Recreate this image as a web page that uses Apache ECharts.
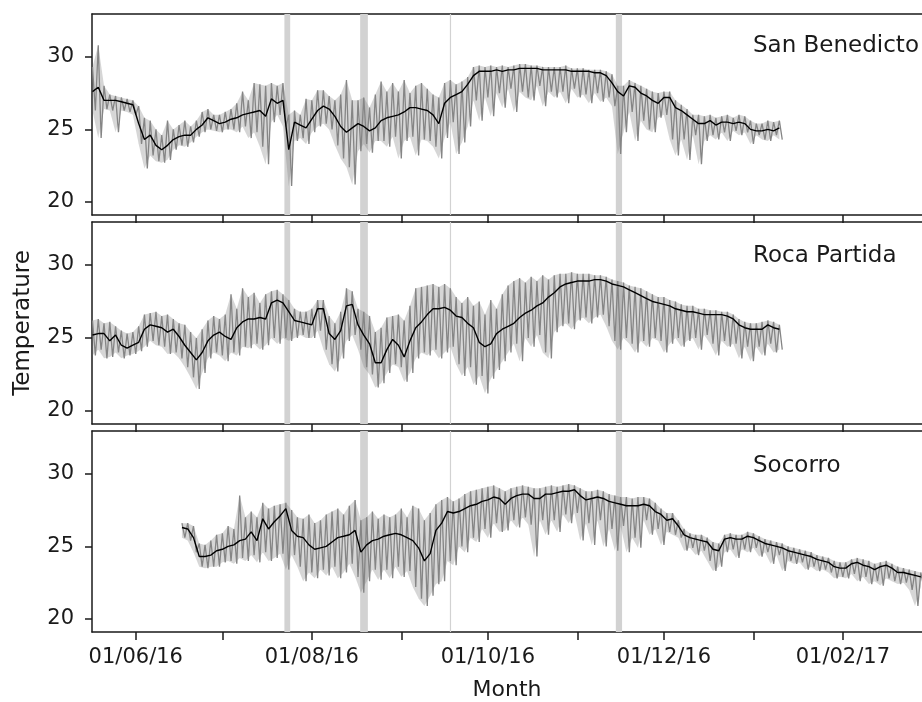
<!DOCTYPE html>
<html><head><meta charset="utf-8">
<script src="https://cdn.jsdelivr.net/npm/echarts@6/dist/echarts.min.js"></script>
<style>html,body{margin:0;padding:0;background:#fff}#c{width:922px;height:702px}</style>
</head><body><div id="c"></div>
<script>
// ---- data ----
const sites = ['San Benedicto', 'Roca Partida', 'Socorro'];
const seriesStart = ['2016-05-17', '2016-05-17', '2016-06-17'];
const stepDays = 2;

const sbMean = [27.6,27.9,27.0,27.0,27.0,26.9,26.8,26.7,
25.4,24.3,24.6,23.9,23.6,23.9,24.3,24.5,24.6,24.6,
25.0,25.3,25.8,25.6,25.4,25.5,25.7,25.8,26.0,26.1,
26.2,26.3,25.9,27.1,26.8,27.0,23.6,25.5,25.3,25.1,
25.7,26.3,26.6,26.4,25.9,25.2,24.8,25.1,25.4,25.2,
24.9,25.1,25.6,25.8,25.9,26.0,26.2,26.5,26.5,26.4,
26.3,26.0,25.4,26.8,27.2,27.4,27.6,28.1,28.7,29.0,
29.0,29.0,29.1,29.0,29.1,29.1,29.2,29.2,29.2,29.2,
29.1,29.1,29.1,29.1,29.1,29.0,29.0,29.0,29.0,28.9,
28.9,28.7,28.2,27.6,27.3,28.0,27.9,27.5,27.3,27.0,
26.8,27.2,27.2,26.5,26.3,26.0,25.7,25.4,25.4,25.6,
25.3,25.5,25.5,25.4,25.5,25.4,25.0,24.9,24.9,25.0,
24.9,25.1];
const sbHi = [29.3,30.8,28.0,27.4,27.3,27.2,27.1,27.0,
26.6,25.8,25.6,25.0,24.6,25.6,25.0,25.3,25.6,25.2,
25.6,26.2,26.4,26.0,26.0,26.2,26.4,26.8,27.6,27.0,
28.2,28.1,28.0,28.2,28.0,28.2,26.0,26.3,26.0,27.1,
27.0,27.7,27.7,27.3,27.0,27.4,28.4,27.0,27.0,27.2,
26.5,27.4,28.3,27.6,28.2,27.6,28.4,27.5,28.0,28.2,
27.8,27.4,27.2,28.2,28.4,28.1,28.3,28.6,29.3,29.4,
29.3,29.4,29.3,29.4,29.3,29.4,29.5,29.5,29.4,29.4,
29.3,29.3,29.3,29.3,29.4,29.2,29.2,29.2,29.1,29.1,
29.1,29.0,28.8,28.0,28.0,28.4,28.2,28.0,27.8,27.6,
27.5,27.6,27.6,27.0,26.7,26.4,26.0,26.0,25.9,26.0,
25.8,25.9,26.0,25.8,26.0,25.9,25.6,25.4,25.4,25.6,
25.5,25.6];
const sbLo = [26.3,24.4,26.4,26.3,24.8,26.3,26.2,26.0,
24.0,22.3,23.2,22.8,22.7,22.9,23.6,23.9,23.8,24.1,
24.5,24.8,25.0,24.9,24.8,25.0,25.0,24.8,25.2,24.4,
24.8,23.8,22.6,25.5,26.0,25.2,21.1,24.2,24.4,24.0,
24.8,25.2,25.4,25.0,23.9,23.0,22.4,21.2,23.5,24.0,
23.4,24.2,24.2,23.8,24.5,23.0,24.2,24.5,23.2,24.3,
24.2,23.8,23.0,24.4,25.5,23.3,24.1,25.2,27.0,25.6,
27.2,25.9,27.5,26.5,27.8,26.2,27.6,27.2,27.0,28.0,
26.6,27.6,27.2,27.6,26.8,27.8,27.2,27.4,26.8,27.5,
26.9,27.2,26.6,23.3,24.8,26.2,24.2,25.6,25.0,24.8,
25.8,26.0,24.3,23.2,24.3,22.9,24.6,22.6,24.2,24.6,
24.3,24.8,24.2,24.9,24.6,24.8,24.0,24.6,24.3,24.2,
24.6,24.3];

const rpMean = [25.2,25.3,25.3,24.8,25.2,24.5,24.3,24.5,
24.7,25.6,25.9,25.8,25.7,25.4,25.6,25.1,24.5,24.0,
23.5,24.0,24.8,25.2,25.4,25.1,24.9,25.7,26.1,26.3,
26.3,26.4,26.3,27.4,27.6,27.4,26.8,26.2,26.1,26.0,
25.9,27.0,27.0,25.3,24.9,25.5,27.2,27.3,25.9,25.2,
24.6,23.3,23.3,24.2,24.9,24.5,23.7,24.8,25.7,26.1,
26.6,27.0,27.0,27.1,26.9,26.5,26.4,26.0,25.7,24.7,
24.4,24.6,25.3,25.6,25.8,26.0,26.4,26.7,26.9,27.2,
27.4,27.8,28.1,28.5,28.7,28.8,28.9,28.9,28.9,29.0,
29.0,28.9,28.7,28.6,28.5,28.3,28.1,27.9,27.7,27.5,
27.4,27.3,27.2,27.0,26.9,26.8,26.8,26.7,26.6,26.6,
26.6,26.6,26.5,26.3,25.9,25.7,25.6,25.6,25.6,25.9,
25.7,25.6];
const rpHi = [26.2,26.3,26.0,26.1,25.8,25.5,25.3,25.4,
25.8,26.6,26.7,26.8,26.5,26.6,26.3,26.0,25.9,25.4,
25.0,25.6,26.2,26.5,26.3,26.6,28.0,27.0,28.4,27.8,
28.1,27.4,28.0,28.2,28.3,28.0,27.6,27.0,26.8,26.8,
27.0,27.6,27.6,26.5,26.0,26.8,28.4,28.2,27.0,26.8,
26.5,25.4,25.7,26.4,26.5,26.6,26.2,27.2,28.4,28.5,
28.6,28.7,28.5,28.7,28.4,27.8,27.4,27.8,27.2,27.5,
26.6,27.6,27.0,28.0,28.6,28.9,29.1,28.8,29.2,28.9,
29.3,29.0,29.3,29.4,29.4,29.5,29.4,29.4,29.4,29.3,
29.3,29.2,29.0,28.9,28.8,28.6,28.5,28.4,28.2,28.0,
27.8,27.8,27.6,27.5,27.3,27.2,27.2,27.0,27.0,26.9,
26.9,26.8,26.8,26.6,26.3,26.1,26.0,26.0,26.1,26.2,
26.1,25.9];
const rpLo = [23.8,24.2,23.6,23.7,24.0,23.6,23.8,23.9,
24.1,24.4,24.8,24.5,24.4,23.9,24.0,23.6,23.0,22.3,
21.5,22.6,23.6,24.0,23.8,23.4,24.0,23.8,24.4,24.3,
24.6,24.2,24.5,25.0,24.6,25.0,24.8,25.0,25.2,25.0,
25.0,25.5,24.2,23.2,22.7,23.6,24.8,25.2,24.2,23.0,
22.5,21.6,21.9,22.6,23.2,23.0,22.0,22.6,23.6,24.0,
23.8,24.2,23.6,24.0,24.4,23.2,22.4,23.0,21.8,22.4,
21.2,22.2,22.8,23.4,24.0,24.6,23.4,25.0,24.4,25.2,
24.0,23.6,25.4,25.8,26.0,25.6,26.2,26.4,26.0,26.4,
26.6,25.8,24.8,24.2,25.0,24.6,24.0,24.8,24.4,25.0,
24.8,24.0,24.6,25.0,24.4,24.8,25.0,24.2,25.2,24.6,
23.8,24.8,24.4,24.6,23.6,24.4,23.4,24.4,23.8,24.6,
24.0,24.2];

const soMean = [26.3,26.2,25.6,24.3,24.3,24.4,24.7,24.8,25.0,25.1,
25.4,25.5,26.0,25.4,26.9,26.2,26.7,27.1,27.6,26.1,
25.7,25.6,25.1,24.8,24.9,25.0,25.3,25.6,25.7,25.8,
26.1,24.6,25.1,25.4,25.5,25.7,25.8,25.9,25.8,25.6,
25.4,24.9,24.0,24.5,26.1,26.6,27.4,27.3,27.4,27.6,
27.8,27.9,28.1,28.2,28.4,28.3,27.9,28.3,28.5,28.6,
28.6,28.3,28.3,28.6,28.6,28.7,28.8,28.8,28.9,28.5,
28.2,28.3,28.4,28.3,28.1,28.0,27.9,27.8,27.8,27.8,
27.9,27.8,27.4,27.2,26.8,26.9,26.4,25.8,25.6,25.5,
25.4,25.3,24.8,24.7,25.5,25.6,25.5,25.5,25.7,25.6,
25.4,25.2,25.1,25.0,24.9,24.7,24.6,24.5,24.4,24.3,
24.1,24.0,23.9,23.6,23.5,23.5,23.8,23.9,23.7,23.6,
23.4,23.6,23.7,23.5,23.2,23.2,23.1,23.0,22.9];
const soHi = [26.6,26.6,26.4,25.2,25.1,25.4,25.8,25.9,26.4,26.2,
28.5,27.0,27.4,27.0,28.0,27.6,27.8,27.9,28.0,27.5,
27.0,26.9,27.2,26.6,26.8,27.2,27.4,27.6,27.2,27.8,
28.2,26.8,27.0,27.4,26.9,27.2,27.0,27.2,27.6,27.0,
27.8,27.6,26.8,27.3,27.9,28.2,28.4,28.1,28.3,28.6,
28.8,28.9,29.0,29.1,29.2,29.0,28.8,29.0,29.1,29.2,
29.1,29.0,29.0,29.1,29.2,29.1,29.2,29.3,29.2,29.0,
28.8,28.8,28.9,28.8,28.6,28.5,28.4,28.4,28.3,28.4,
28.4,28.3,28.0,27.6,27.3,27.3,26.8,26.2,25.9,25.8,
25.8,25.6,25.3,25.2,25.8,25.9,25.8,25.8,26.0,25.9,
25.7,25.5,25.4,25.3,25.2,25.0,24.9,24.8,24.7,24.6,
24.4,24.3,24.2,24.0,23.9,23.9,24.1,24.2,24.1,24.0,
23.8,23.9,24.0,23.8,23.6,23.5,23.4,23.3,23.2];
const soLo = [25.6,25.4,24.6,23.6,23.5,23.6,23.6,23.9,24.0,23.8,
24.2,24.0,24.4,23.9,24.6,24.0,24.2,24.5,23.4,24.4,
23.6,22.6,23.2,22.8,23.4,23.0,23.6,22.8,23.2,23.8,
22.9,21.8,22.6,23.4,22.7,23.4,22.8,23.6,22.9,23.3,
22.2,21.4,20.9,21.6,22.4,22.6,24.0,23.7,25.0,24.6,
25.6,25.3,26.2,25.6,26.6,26.0,26.1,26.8,26.3,27.0,
26.5,24.3,26.8,25.8,26.8,26.0,27.2,26.6,27.3,25.4,
26.6,25.1,26.8,25.0,26.2,24.7,26.4,24.6,25.6,24.9,
26.8,25.8,26.2,25.1,26.0,25.8,25.6,24.7,24.9,24.4,
24.7,24.0,23.3,23.6,24.6,24.8,24.2,24.8,24.6,24.9,
24.3,24.6,23.8,24.4,23.3,24.0,23.8,23.9,23.4,23.6,
23.3,23.4,23.2,22.8,22.9,22.8,23.1,22.6,22.9,22.4,
22.6,22.3,22.8,22.6,22.4,22.5,22.0,20.9,22.2];

const monthTicks = ['2016-06-01','2016-07-01','2016-08-01','2016-09-01','2016-10-01',
  '2016-11-01','2016-12-01','2017-01-01','2017-02-01'];
const labelDates = ['2016-06-01','2016-08-01','2016-10-01','2016-12-01','2017-02-01'];
const tickLabels = ['01/06/16','01/08/16','01/10/16','01/12/16','01/02/17'];
const yTicks = [20, 25, 30];
const bandStart = ['2016-07-22T12:00','2016-08-17T18:00','2016-09-17T20:00','2016-11-14T08:00'];
const bandEnd   = ['2016-07-24T12:00','2016-08-20T10:00','2016-09-18T06:00','2016-11-16T12:00'];
const xRange = ['2016-05-16T20:00', '2017-02-28T10:00'];
const yRange = [19.1, 32.95];

// ---- build ----
function ms(s) {
  const parts = s.split('T');
  const d = parts[0].split('-').map(Number);
  let h = 0, mi = 0;
  if (parts[1]) { const t = parts[1].split(':').map(Number); h = t[0]; mi = t[1]; }
  return Date.UTC(d[0], d[1] - 1, d[2], h, mi);
}
const DAY = 86400000;
const means = [sbMean, rpMean, soMean];
const his = [sbHi, rpHi, soHi];
const los = [sbLo, rpLo, soLo];
const xMin = ms(xRange[0]), xMax = ms(xRange[1]);
const tickMs = monthTicks.map(ms);
const labelMs = labelDates.map(ms);

const FONT = 'DejaVu Sans';
const INK = '#1a1a1a';
const tops = [14, 222, 431];
const heights = [201, 202, 202];

function envelopeItem(params, api) {
  const a = api.coord([api.value(0), api.value(2)]);
  const b = api.coord([api.value(3), api.value(5)]);
  const c = api.coord([api.value(3), api.value(4)]);
  const d = api.coord([api.value(0), api.value(1)]);
  return {
    type: 'polygon', shape: { points: [a, b, c, d] },
    style: { fill: 'rgba(120,120,120,0.30)', stroke: null }
  };
}

const grid = [], xAxis = [], yAxis = [], series = [], graphic = [];
for (let i = 0; i < 3; i++) {
  grid.push({ left: 92, width: 834, top: tops[i], height: heights[i] });
  xAxis.push({
    type: 'value', gridIndex: i, min: xMin, max: xMax, position: 'bottom',
    axisLine: { show: true, onZero: false, lineStyle: { color: INK, width: 1.5 } },
    axisTick: { show: true, customValues: tickMs, length: 8, inside: false, lineStyle: { color: INK, width: 1.5 } },
    axisLabel: {
      show: i === 2, customValues: labelMs, margin: 15, fontSize: 21, fontFamily: FONT, color: INK,
      formatter: v => { const k = labelMs.indexOf(v); return k >= 0 ? tickLabels[k] : ''; }
    },
    splitLine: { show: false },
    name: i === 2 ? 'Month' : '', nameLocation: 'middle', nameGap: 47,
    nameTextStyle: { fontSize: 22, fontFamily: FONT, color: INK }
  });
  xAxis.push({
    type: 'value', gridIndex: i, min: xMin, max: xMax, position: 'top',
    axisLine: { show: true, onZero: false, lineStyle: { color: INK, width: 1.5 } },
    axisTick: { show: false }, axisLabel: { show: false }, splitLine: { show: false }
  });
  yAxis.push({
    type: 'value', gridIndex: i, min: yRange[0], max: yRange[1],
    axisLine: { show: true, onZero: false, lineStyle: { color: INK, width: 1.5 } },
    axisTick: { show: true, customValues: yTicks, length: 7, lineStyle: { color: INK, width: 1.5 } },
    axisLabel: { customValues: yTicks, margin: 18, fontSize: 21, fontFamily: FONT, color: INK },
    splitLine: { show: false },
    name: i === 1 ? 'Temperature' : '', nameLocation: 'middle', nameRotate: 90, nameGap: 57,
    nameTextStyle: { fontSize: 23, fontFamily: FONT, color: INK }
  });

  const t0 = ms(seriesStart[i]);
  const zig = [], line = [], env = [];
  const n = means[i].length;
  for (let j = 0; j < n; j++) {
    const t = t0 + j * stepDays * DAY;
    zig.push([t, his[i][j]]);
    zig.push([t + DAY, los[i][j]]);
    line.push([t, means[i][j]]);
    if (j < n - 1) {
      env.push([t, los[i][j], his[i][j], t + stepDays * DAY, los[i][j + 1], his[i][j + 1]]);
    }
  }
  series.push({
    type: 'line', xAxisIndex: 2 * i, yAxisIndex: i, data: [], z: 1, silent: true,
    markArea: {
      silent: true, itemStyle: { color: '#d2d2d2', opacity: 1 },
      data: bandStart.map((s, k) => [{ xAxis: ms(s) }, { xAxis: ms(bandEnd[k]) }])
    }
  });
  series.push({
    type: 'custom', xAxisIndex: 2 * i, yAxisIndex: i, data: env, z: 2, silent: true,
    renderItem: envelopeItem, clip: true,
    encode: { x: [0, 3], y: [1, 2, 4, 5] }
  });
  series.push({
    type: 'line', xAxisIndex: 2 * i, yAxisIndex: i, data: zig, z: 3,
    showSymbol: false, symbol: 'none', silent: true,
    lineStyle: { color: '#858585', width: 1.3 }
  });
  series.push({
    type: 'line', xAxisIndex: 2 * i, yAxisIndex: i, data: line, z: 4,
    showSymbol: false, symbol: 'none', silent: true,
    lineStyle: { color: '#000', width: 1.4 }
  });
}
const labelY = [46.5, 256.5, 466];
for (let i = 0; i < 3; i++) {
  graphic.push({
    type: 'text', x: 753, y: labelY[i], z: 10,
    style: { text: sites[i], font: '23px "DejaVu Sans"', fill: INK, align: 'left', verticalAlign: 'middle' }
  });
}

const chart = echarts.init(document.getElementById('c'), null, { renderer: 'canvas' });
chart.setOption({ animation: false, backgroundColor: '#fff', grid, xAxis, yAxis, series, graphic });
</script>
</body></html>
